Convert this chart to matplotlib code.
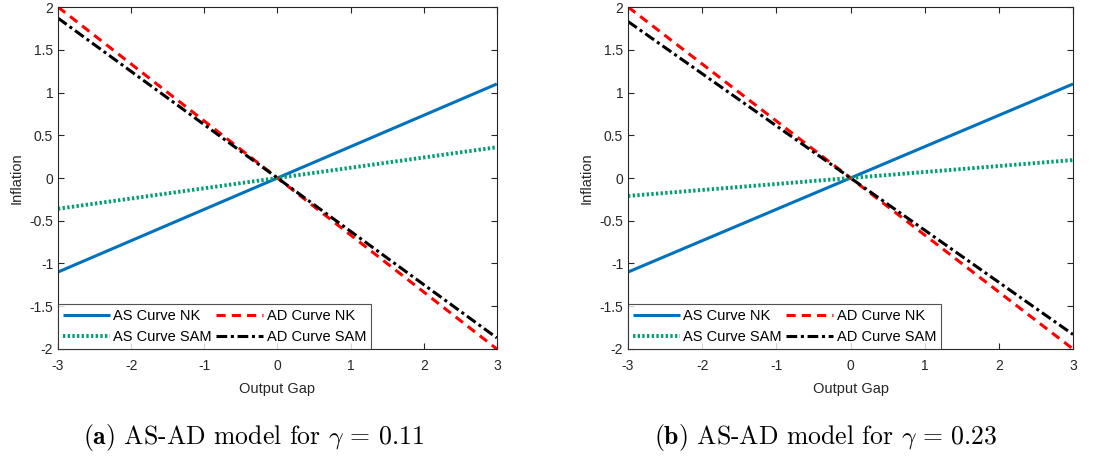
import matplotlib
matplotlib.use("Agg")
import matplotlib.pyplot as plt

plt.rcParams['font.family'] = ['Liberation Sans', 'DejaVu Sans']
plt.rcParams['mathtext.fontset'] = 'cm'
plt.rcParams['axes.unicode_minus'] = False

# datos (extremos en x = -3 y x = 3)
x = [-3, 3]
as_nk_a = [-1.1, 1.1]
ad_nk_a = [2.0, -2.0]
as_sam_a = [-0.36, 0.36]
ad_sam_a = [1.87, -1.87]

as_nk_b = [-1.1, 1.1]
ad_nk_b = [2.0, -2.0]
as_sam_b = [-0.21, 0.21]
ad_sam_b = [1.83, -1.83]

etiquetas = ["AS Curve NK", "AD Curve NK", "AS Curve SAM", "AD Curve SAM"]
titulos = [r"$\mathbf{(a)}$ AS-AD model for $\gamma\,=\,0.11$",
           r"$\mathbf{(b)}$ AS-AD model for $\gamma\,=\,0.23$"]

azul = "#0072BD"
rojo = "#FF0000"
verde = "#009E73"
gris = "#262626"

fig = plt.figure(figsize=(11.11, 4.59), dpi=100)
posiciones = [[0.0522, 0.2397, 0.395, 0.745], [0.5653, 0.2397, 0.4005, 0.745]]
datos = [(as_nk_a, ad_nk_a, as_sam_a, ad_sam_a), (as_nk_b, ad_nk_b, as_sam_b, ad_sam_b)]

for pos, (as_nk, ad_nk, as_sam, ad_sam), titulo in zip(posiciones, datos, titulos):
    ax = fig.add_axes(pos)
    l1, = ax.plot(x, as_nk, color=azul, lw=2.2, solid_capstyle='butt')
    l2, = ax.plot(x, ad_nk, color=rojo, lw=2.2, ls=(0, (3, 2)))
    l3, = ax.plot(x, as_sam, color=verde, lw=2.8, ls=(0, (0.6, 0.6)))
    l4, = ax.plot(x, ad_sam, color='k', lw=2.2, ls=(0, (3.5, 1.2, 1, 1.2)))
    ax.set_xlim(-3, 3)
    ax.set_ylim(-2, 2)
    ax.set_xticks(range(-3, 4))
    ax.set_yticks([-2, -1.5, -1, -0.5, 0, 0.5, 1, 1.5, 2])
    ax.set_yticklabels(["-2", "-1.5", "-1", "-0.5", "0", "0.5", "1", "1.5", "2"])
    ax.tick_params(direction='in', top=True, right=True, labelsize=10, colors=gris, length=4)
    ax.tick_params(axis='x', pad=7)
    for s in ax.spines.values():
        s.set_color(gris)
        s.set_linewidth(0.8)
    ax.set_xlabel("Output Gap", fontsize=10.5, color=gris, labelpad=7)
    ax.set_ylabel("Inflation", fontsize=10.5, color=gris)
    leg = ax.legend([l1, l3, l2, l4], [etiquetas[0], etiquetas[2], etiquetas[1], etiquetas[3]],
                    loc='lower left', ncol=2, fontsize=10.5, frameon=True, fancybox=False,
                    borderaxespad=0, handlelength=3.2, handletextpad=0.25,
                    columnspacing=0.3, borderpad=0.35, labelspacing=0.45)
    leg.get_frame().set_edgecolor(gris)
    leg.get_frame().set_linewidth(0.8)
    cx = pos[0] + pos[2] / 2 - 0.022
    fig.text(cx, 0.047, titulo, ha='center', va='center', fontsize=18.5, family='cmr10')

fig.savefig("out.png", dpi=100)
